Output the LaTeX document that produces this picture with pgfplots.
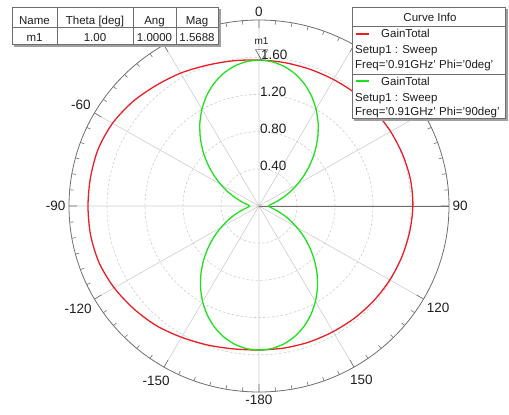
\documentclass[border=0pt]{standalone}
\usepackage{pgfplots}
\pgfplotsset{compat=1.18}
\usepgfplotslibrary{polar}
\usepackage{pgfplotstable}
\usepackage{fontspec}
\setmainfont{Liberation Sans}
\definecolor{cred}{RGB}{235,30,40}
\definecolor{cgreen}{RGB}{30,225,30}
\definecolor{gridc}{RGB}{205,205,205}
\definecolor{axc}{RGB}{110,110,110}
\definecolor{txt}{RGB}{30,30,30}
\definecolor{shad}{RGB}{160,160,160}

% angle a = 90 - theta (theta: 0 at top, clockwise)
\pgfplotstableread{
a r
270 1.55
260 1.56
250 1.59
240 1.63
230 1.68
220 1.72
210 1.76
200 1.79
190 1.80
180 1.80
170 1.80
160 1.80
150 1.78
140 1.74
130 1.69
120 1.65
110 1.61
100 1.585
90 1.57
80 1.565
70 1.565
60 1.57
50 1.58
40 1.59
30 1.60
20 1.61
10 1.62
0 1.62
-10 1.61
-20 1.60
-30 1.59
-40 1.58
-50 1.57
-60 1.56
-70 1.555
-80 1.55
-90 1.55
}\redtable

\pgfplotstableread{
a r
270 1.5500
265 1.5390
260 1.5063
255 1.4529
250 1.3804
245 1.2910
240 1.1875
235 1.0730
230 0.9509
225 0.8250
220 0.6991
215 0.5770
210 0.4625
205 0.3590
200 0.2696
195 0.1971
190 0.1437
185 0.1110
180 0.1000
175 0.1112
170 0.1443
165 0.1984
160 0.2718
155 0.3623
150 0.4672
145 0.5832
140 0.7069
135 0.8344
130 0.9619
125 1.0856
120 1.2016
115 1.3065
110 1.3970
105 1.4704
100 1.5245
95 1.5576
90 1.5688
85 1.5576
80 1.5245
75 1.4704
70 1.3970
65 1.3065
60 1.2016
55 1.0856
50 0.9619
45 0.8344
40 0.7069
35 0.5832
30 0.4672
25 0.3623
20 0.2718
15 0.1984
10 0.1443
5 0.1112
0 0.1000
-5 0.1110
-10 0.1437
-15 0.1971
-20 0.2696
-25 0.3590
-30 0.4625
-35 0.5770
-40 0.6991
-45 0.8250
-50 0.9509
-55 1.0730
-60 1.1875
-65 1.2910
-70 1.3804
-75 1.4529
-80 1.5063
-85 1.5390
-90 1.5500
}\greentable

\newcommand{\fs}{\fontsize{11.5}{13}\selectfont}
\newcommand{\fl}{\fontsize{13.5}{16}\selectfont}

\begin{document}
\begin{tikzpicture}[x=1pt,y=1pt]
\path[use as bounding box] (0,0) rectangle (509,-415);
\begin{polaraxis}[
  at={(259pt,-206pt)}, anchor=center,
  scale only axis, width=380pt, height=372pt,
  ymin=0, ymax=2,
  xtick={0,30,...,330},
  xticklabels={90,{},{},0,{},-60,-90,-120,-150,-180,150,120},
  minor x tick num=5,
  ytick={0.4,0.8,1.2,1.6},
  yticklabels={},
  xmajorgrids, ymajorgrids,
  x grid style={gridc, line width=0.6pt},
  y grid style={gridc, dash pattern=on 2.5pt off 2pt, line width=0.6pt},
  axis line style={axc, line width=0.8pt},
  xtick style={axc, line width=0.6pt},
  major tick length=8pt, minor tick length=4pt,
  ytick style={draw=none},
  xtick align=outside,
  xticklabel shift=8pt,
  xticklabel style={font=\fl, text=txt},
]
\addplot[cred, line width=1.3pt, smooth] table[x=a, y=r] {\redtable};
\addplot[cgreen, line width=1.3pt, smooth, tension=0.4] table[x=a, y=r] {\greentable};
\addplot[only marks, mark=triangle, mark size=7pt,
  mark options={draw=axc, fill=none, line width=0.7pt, yshift=7pt, rotate=180}]
  coordinates {(89,1.5688)};
\node[font=\fontsize{10}{12}\selectfont, text=txt, anchor=south, inner sep=0pt, yshift=15pt] at (axis cs:89,1.5688) {m1};
\node[font=\fl, text=txt, anchor=west, inner sep=0pt, xshift=2pt, yshift=2pt] at (axis cs:90,1.6) {1.60};
\node[font=\fl, text=txt, anchor=west, inner sep=0pt, xshift=1pt, yshift=3pt] at (axis cs:90,1.2) {1.20};
\node[font=\fl, text=txt, anchor=west, inner sep=0pt, xshift=1pt, yshift=3pt] at (axis cs:90,0.8) {0.80};
\node[font=\fl, text=txt, anchor=west, inner sep=0pt, xshift=1pt, yshift=3pt] at (axis cs:90,0.4) {0.40};
\end{polaraxis}

% marker table
\fill[shad] (14,-9) rectangle (221,-47);
\draw[fill=white, draw=axc, line width=0.7pt] (12,-7) rectangle (218,-44);
\draw[axc, line width=0.6pt] (57,-7)--(57,-44) (133,-7)--(133,-44) (176,-7)--(176,-44) (12,-27)--(218,-27);
\begin{scope}[every node/.style={font=\fs, text=txt, anchor=base, inner sep=0pt}]
\node at (34.5,-24.5) {Name};
\node at (95,-24.5) {Theta [deg]};
\node at (154.5,-24.5) {Ang};
\node at (197,-24.5) {Mag};
\node at (34.5,-41.5) {m1};
\node at (95,-41.5) {1.00};
\node at (154.5,-41.5) {1.0000};
\node at (197,-41.5) {1.5688};
\end{scope}

% curve info legend
\fill[shad] (354,-9) rectangle (508,-121);
\draw[fill=white, draw=axc, line width=0.7pt] (352,-7) rectangle (505,-118);
\draw[axc, line width=0.6pt] (352,-26)--(505,-26) (352,-74)--(505,-74);
\fill[cred] (356,-32.5) rectangle (369,-34.5);
\fill[cgreen] (356,-80) rectangle (369,-82);
\begin{scope}[every node/.style={font=\fs, text=txt, anchor=base west, inner sep=0pt}]
\node[anchor=base] at (430,-21.7) {Curve Info};
\node at (381,-37.7) {GainTotal};
\node at (355,-53.3) {Setup1 : Sweep};
\node at (355,-68.5) {Freq='0.91GHz' Phi='0deg'};
\node at (381,-85) {GainTotal};
\node at (355,-101.5) {Setup1 : Sweep};
\node at (355,-115) {Freq='0.91GHz' Phi='90deg'};
\end{scope}
\end{tikzpicture}
\end{document}
